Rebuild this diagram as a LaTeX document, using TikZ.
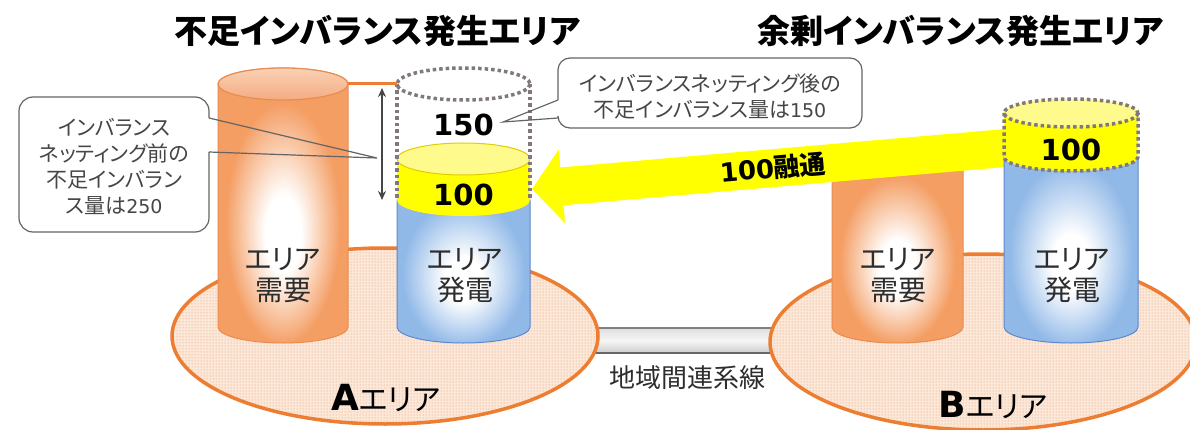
\documentclass[tikz,border=0pt]{standalone}
\usepackage{fontspec}
\usetikzlibrary{patterns,arrows.meta}
\newfontfamily\jp{Noto Sans CJK JP}[RawFeature=+palt]
\newfontfamily\lat{DejaVu Sans}
\definecolor{orEdge}{RGB}{237,125,49}
\definecolor{orBody}{RGB}{244,158,100}
\definecolor{orLine}{RGB}{232,140,80}
\definecolor{orTopA}{RGB}{250,208,180}
\definecolor{orTopB}{RGB}{244,172,130}
\definecolor{blBody}{RGB}{145,185,232}
\definecolor{blLine}{RGB}{95,135,205}
\definecolor{ylw}{RGB}{255,255,0}
\definecolor{ylwTop}{RGB}{255,250,140}
\definecolor{ylwLine}{RGB}{225,205,0}
\definecolor{dotg}{RGB}{128,120,125}
\definecolor{peach}{RGB}{252,232,216}
\definecolor{dotor}{RGB}{230,145,95}
\definecolor{txtdark}{RGB}{45,45,45}
\definecolor{calltxt}{RGB}{70,70,70}
\definecolor{callline}{RGB}{100,100,100}
\definecolor{arrg}{RGB}{70,70,70}
\definecolor{barTop}{RGB}{222,222,222}
\definecolor{barMid}{RGB}{246,246,246}
\definecolor{barBot}{RGB}{205,205,205}
\pgfdeclareradialshading{cylor}{\pgfpoint{0bp}{-6bp}}{color(0bp)=(white); color(7bp)=(white); color(22bp)=(orBody); color(50bp)=(orBody)}
\pgfdeclareradialshading{cylbl}{\pgfpoint{0bp}{-6bp}}{color(0bp)=(white); color(7bp)=(white); color(23bp)=(blBody); color(50bp)=(blBody)}
\newcommand{\cylpath}[5]{(#1,#3) -- (#1,#4) arc[start angle=180,end angle=0,x radius={(#2-#1)/2},y radius=#5] -- (#2,#3) arc[start angle=0,end angle=-180,x radius={(#2-#1)/2},y radius=#5] -- cycle}
\begin{document}
\begin{tikzpicture}[x=1pt,y=-1pt,
  cyltext/.style={align=center, text=txtdark, font=\jp\fontsize{28}{31}\selectfont, inner sep=0pt},
  numtext/.style={text=black, font=\lat\bfseries\fontsize{29}{32}\selectfont, inner sep=0pt},
  calltext/.style={align=center, text=calltxt, font=\jp\fontsize{21}{26}\selectfont, inner sep=0pt},
  callbox/.style={draw=callline, line width=1.2pt},
  dotline/.style={draw=dotg, line width=3.5pt, dash pattern=on 3.5pt off 3pt},
  titletext/.style={text=black, font=\jp\bfseries\fontsize{33}{40}\selectfont, inner sep=0pt}]
\useasboundingbox (0,0) rectangle (1190,430);
% interconnection bar
\path[top color=barTop, bottom color=barBot, middle color=barMid] (560,328) rectangle (800,353);
\draw[line width=2pt, draw=gray] (560,328) -- (800,328);
\draw[line width=2pt, draw=gray!80!black] (560,353) -- (800,353);
% area ellipses
\foreach \cx/\cy in {385/336, 983/342}{
  \fill[peach] (\cx,\cy) ellipse[x radius=213, y radius=88];
  \fill[pattern=dots, pattern color=dotor] (\cx,\cy) ellipse[x radius=213, y radius=88];
  \draw[orEdge, line width=3.5pt] (\cx,\cy) ellipse[x radius=213, y radius=88];
}
% left callout box
\fill[white, rounded corners=14pt] (19,97) rectangle (209,232);
\draw[callbox, rounded corners=14pt] (209,118) -- (209,97) -- (19,97) -- (19,232) -- (209,232) -- (209,152);
% right callout box
\fill[white, rounded corners=12pt] (558,58) rectangle (862,128);
\draw[callbox, rounded corners=12pt] (558,100) -- (558,58) -- (862,58) -- (862,128) -- (558,128) -- (558,118);
% A demand cylinder
\path[shading=cylor] \cylpath{218}{348}{84}{327}{16};
\draw[orLine, line width=1pt] \cylpath{218}{348}{84}{327}{16};
\draw[orLine, line width=1.2pt, top color=orTopA, bottom color=orTopB] (283,84) ellipse[x radius=65, y radius=16];
% A generation cylinder
\path[shading=cylbl] \cylpath{397}{530}{200}{327}{16};
\draw[blLine, line width=1pt] \cylpath{397}{530}{200}{327}{16};
\fill[ylw] \cylpath{397}{530}{159}{200}{16};
\draw[ylwLine, line width=1pt, fill=ylwTop] (463.5,159) ellipse[x radius=66.5, y radius=16];
\draw[dotline] (463.5,84) ellipse[x radius=66.5, y radius=16];
\draw[dotline] (397,84) -- (397,200);
\draw[dotline] (530,84) -- (530,200);
% demand level line and double arrow
\coordinate (lvA) at (348,84);
\coordinate (lvB) at (397,84);
\draw[orEdge, line width=3pt] (lvA) -- (lvB);
\coordinate (daTop) at (382,88);
\coordinate (daBot) at (382,200);
\draw[arrg, line width=1.5pt, {Stealth[length=9pt,width=8pt]}-{Stealth[length=9pt,width=8pt]}] (daTop) -- (daBot);
% callout pointers
\draw[callbox, line join=miter] (209,118) -- (377,158) -- (209,152);
\draw[callbox, line join=miter] (558,100) -- (503,122) -- (558,118);
% B demand cylinder (top hidden behind the arrow)
\path[shading=cylor] \cylpath{832}{963}{168}{327}{16};
\draw[orLine, line width=1pt] (832,168) -- (832,327) arc[start angle=180,end angle=0,x radius=65.5,y radius=16] -- (963,168);
% big yellow arrow
\fill[ylw] (532,189) -- (558.7,149.6) -- (560.3,167.5) -- (1006.4,128.9) -- (1009.6,166.7) -- (563.5,205.3) -- (565.1,223.2) -- cycle;
% B generation cylinder
\path[shading=cylbl] \cylpath{1004}{1138}{157}{327}{16};
\draw[blLine, line width=1pt] \cylpath{1004}{1138}{157}{327}{16};
\fill[ylw] \cylpath{1004}{1138}{113}{157}{14};
\fill[ylwTop] (1071,113) ellipse[x radius=67, y radius=14];
\draw[dotline] (1071,113) ellipse[x radius=67, y radius=14];
\draw[dotline] (1004,113) -- (1004,157) arc[start angle=180,end angle=0,x radius=67,y radius=14] -- (1138,113);
% texts
\node[titletext] (tA) at (377,31) {不足インバランス発生エリア};
\node[titletext] (tB) at (960,31) {余剰インバランス発生エリア};
\node[calltext] (cA) at (114,166) {インバランス\\ネッティング前の\\不足インバラン\\ス量は{\lat\fontsize{19}{26}\selectfont 250}};
\node[calltext] (cB) at (710,97) {インバランスネッティング後の\\不足インバランス量は{\lat\fontsize{19}{26}\selectfont 150}};
\node[numtext] (n150) at (463.5,125) {150};
\node[numtext] (n100A) at (463.5,195) {100};
\node[numtext] (n100B) at (1071,150) {100};
\node[cyltext] (dA) at (283,276) {エリア\\需要};
\node[cyltext] (gA) at (465,276) {エリア\\発電};
\node[cyltext] (dB) at (898,276) {エリア\\需要};
\node[cyltext] (gB) at (1072,276) {エリア\\発電};
\node[rotate=5, inner sep=0pt, text=black] (flow) at (773,168) {{\lat\bfseries\fontsize{26}{30}\selectfont 100}{\jp\bfseries\fontsize{26}{30}\selectfont 融通}};
\node[inner sep=0pt, text=txtdark, font=\jp\fontsize{26}{30}\selectfont] (line) at (687,378) {地域間連系線};
\node[inner sep=0pt, text=black] (aA) at (386,398) {{\lat\bfseries\fontsize{36}{40}\selectfont A}{\jp\fontsize{30}{34}\selectfont エリア}};
\node[inner sep=0pt, text=black] (aB) at (993,405) {{\lat\bfseries\fontsize{36}{40}\selectfont B}{\jp\fontsize{30}{34}\selectfont エリア}};
\end{tikzpicture}
\end{document}
